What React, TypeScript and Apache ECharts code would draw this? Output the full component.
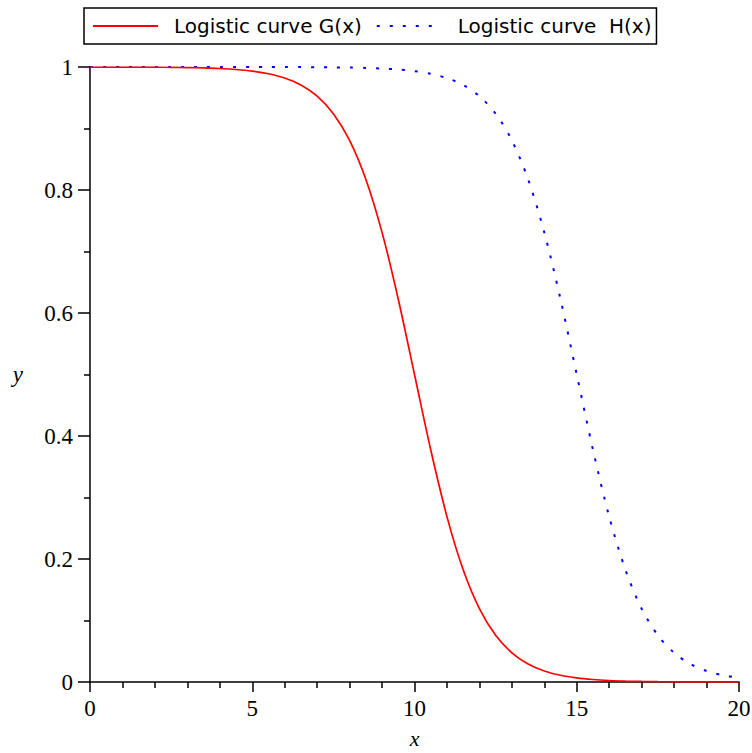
import React, { useEffect, useRef } from "react";
import * as echarts from "echarts";

const xValues: number[] = [
  0, 0.5, 1, 1.5, 2, 2.5, 3, 3.5, 4, 4.5, 5, 5.5, 6, 6.5, 7, 7.5, 8, 8.5, 9, 9.5,
  10, 10.5, 11, 11.5, 12, 12.5, 13, 13.5, 14, 14.5, 15, 15.5, 16, 16.5, 17, 17.5,
  18, 18.5, 19, 19.5, 20,
];

const gValues: number[] = [
  0.99995, 0.99993, 0.99988, 0.9998, 0.99966, 0.99945, 0.99909, 0.9985, 0.99753,
  0.99593, 0.99331, 0.98901, 0.98201, 0.97069, 0.95257, 0.92414, 0.8808, 0.81757,
  0.73106, 0.62246, 0.5, 0.37754, 0.26894, 0.18243, 0.1192, 0.07586, 0.04743,
  0.02931, 0.01799, 0.01099, 0.00669, 0.00407, 0.00247, 0.0015, 0.00091, 0.00055,
  0.00034, 0.0002, 0.00012, 0.00007, 0.00005,
];

const hValues: number[] = [
  1.0, 1.0, 1.0, 1.0, 1.0, 0.99999, 0.99999, 0.99998, 0.99998, 0.99997,
  0.99995, 0.99993, 0.99988, 0.9998, 0.99966, 0.99945, 0.99909, 0.9985, 0.99753,
  0.99593, 0.99331, 0.98901, 0.98201, 0.97069, 0.95257, 0.92414, 0.8808, 0.81757,
  0.73106, 0.62246, 0.5, 0.37754, 0.26894, 0.18243, 0.1192, 0.07586, 0.04743,
  0.02931, 0.01799, 0.01099, 0.00669,
];

const seriesNames: string[] = ["Logistic curve G(x)", "Logistic curve  H(x)"];
const xTickLabels: string[] = ["0", "5", "10", "15", "20"];
const yTickLabels: string[] = ["0", "0.2", "0.4", "0.6", "0.8", "1"];

export default function App() {
  const ref = useRef<HTMLDivElement>(null);

  useEffect(() => {
    if (!ref.current) return;
    const chart = echarts.init(ref.current, undefined, { renderer: "svg" });
    const serif = "Liberation Serif";
    const labelStyle = {
      fontFamily: serif,
      fontSize: 23,
      fontWeight: "normal",
      color: "#000",
    };
    chart.setOption({
      animation: false,
      backgroundColor: "#fff",
      textStyle: { fontFamily: serif },
      grid: {
        left: 90,
        right: 13,
        top: 67,
        bottom: 71,
        containLabel: false,
        outerBoundsMode: "none",
      },
      legend: {
        show: true,
        top: 8,
        left: 84,
        itemWidth: 65,
        itemHeight: 14,
        itemGap: 14,
        padding: [8, 5, 8, 8],
        borderColor: "#000",
        borderWidth: 1.5,
        itemStyle: { color: "transparent", opacity: 0, borderWidth: 0 },
        textStyle: {
          fontFamily: "DejaVu Sans",
          fontSize: 20,
          color: "#000",
          padding: [0, 0, 0, 11],
        },
        data: seriesNames,
      },
      xAxis: {
        type: "value",
        min: 0,
        max: 20,
        interval: 5,
        name: "x",
        nameLocation: "middle",
        nameGap: 45,
        nameTextStyle: { fontFamily: serif, fontStyle: "italic", fontSize: 22, color: "#000" },
        axisLine: { show: true, onZero: false, lineStyle: { color: "#000", width: 1.5 } },
        splitLine: { show: false },
        axisTick: { show: true, length: 10, lineStyle: { color: "#000", width: 1.5 } },
        minorTick: { show: true, splitNumber: 5, length: 6, lineStyle: { color: "#000", width: 1.5 } },
        axisLabel: {
          show: true,
          ...labelStyle,
          margin: 15,
          formatter: (v: number) => {
            const idx = Math.round(v / 5);
            return xTickLabels[idx] ?? String(v);
          },
        },
      },
      yAxis: {
        type: "value",
        min: 0,
        max: 1,
        interval: 0.2,
        name: "y",
        nameLocation: "middle",
        nameGap: 67,
        nameRotate: 0,
        nameTextStyle: { fontFamily: serif, fontStyle: "italic", fontSize: 23, color: "#000", padding: [8, 0, 0, 0] },
        axisLine: { show: true, onZero: false, lineStyle: { color: "#000", width: 1.5 } },
        splitLine: { show: false },
        axisTick: { show: true, length: 12, lineStyle: { color: "#000", width: 1.5 } },
        minorTick: { show: true, splitNumber: 2, length: 6, lineStyle: { color: "#000", width: 1.5 } },
        axisLabel: {
          show: true,
          ...labelStyle,
          margin: 17,
          formatter: (v: number) => {
            const idx = Math.round(v / 0.2);
            return yTickLabels[idx] ?? String(v);
          },
        },
      },
      series: [
        {
          name: seriesNames[0],
          type: "line",
          symbol: "none",
          smooth: 0.3,
          data: xValues.map((x, i) => [x, gValues[i]]),
          lineStyle: { color: "#ff0000", width: 1.7 },
          itemStyle: { color: "#ff0000" },
          z: 3,
        },
        {
          name: seriesNames[1],
          type: "line",
          symbol: "none",
          smooth: 0.3,
          data: xValues.map((x, i) => [x, hValues[i]]),
          lineStyle: { color: "#0000ff", width: 2, type: [3, 10] },
          itemStyle: { color: "#0000ff" },
          z: 2,
        },
      ],
    });
    return () => chart.dispose();
  }, []);

  return <div ref={ref} style={{ width: 752, height: 753, position: "absolute", left: 0, top: 0 }} />;
}
